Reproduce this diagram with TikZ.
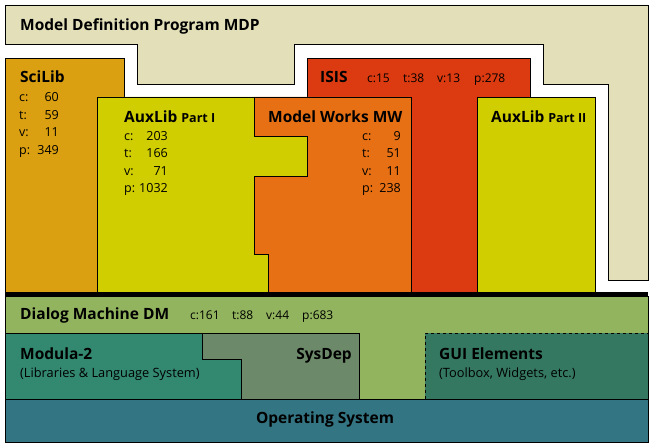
\documentclass[tikz,border=0pt]{standalone}
\usepackage{fontspec}
\setmainfont{Open Sans}
\definecolor{mdpbeige}{HTML}{E2DFB9}
\definecolor{scigold}{HTML}{DBA012}
\definecolor{auxyellow}{HTML}{D0CE00}
\definecolor{mworange}{HTML}{E87014}
\definecolor{isisred}{HTML}{DC3A10}
\definecolor{dmgreen}{HTML}{92B45E}
\definecolor{modteal}{HTML}{338870}
\definecolor{sysgray}{HTML}{6C8A6A}
\definecolor{guiteal}{HTML}{357862}
\definecolor{osblue}{HTML}{347583}
\begin{document}
\begin{tikzpicture}[x=1pt,y=-1pt]
        % Define styles
        \tikzset{
            layer/.style={draw=black, line width=0.8pt},
            title/.style={font=\fontsize{15.5}{17}\selectfont\bfseries, anchor=base west, inner sep=0pt},
            stat/.style={font=\fontsize{12.5}{14}\selectfont, inner sep=0pt},
            count/.style={font=\fontsize{12}{14}\selectfont, anchor=base west, inner sep=0pt},
            note/.style={font=\fontsize{12.8}{14}\selectfont, anchor=base west, inner sep=0pt}
        }
        \newcommand{\partfont}{\fontsize{12.5}{14}\selectfont}
        \useasboundingbox (0,0) rectangle (654,444);
        % Model Definition Program (background frame)
        \filldraw[layer, fill=mdpbeige] (5,5) -- (648,5) -- (648,280) -- (608,280) -- (608,84)
            -- (543,84) -- (543,44) -- (294,44) -- (294,84) -- (137,84) -- (137,44) -- (5,44) -- cycle;
        % Libraries on top of DM
        \filldraw[layer, fill=scigold] (5,58) rectangle (124,292);
        \filldraw[layer, fill=isisred] (307,58) rectangle (530,292);
        \filldraw[layer, fill=mworange] (254,97) -- (411,97) -- (411,292) -- (268,292) -- (268,254)
            -- (254,254) -- (254,176) -- (307,176) -- (307,136) -- (254,136) -- cycle;
        \filldraw[layer, fill=auxyellow] (97,97) -- (254,97) -- (254,136) -- (307,136) -- (307,176)
            -- (254,176) -- (254,254) -- (268,254) -- (268,292) -- (97,292) -- cycle;
        \filldraw[layer, fill=auxyellow] (477,97) rectangle (595,292);
        % Dialog Machine and what lies below
        \fill[dmgreen] (5,296) rectangle (648,399);
        \draw[layer] (5,296) rectangle (648,399);
        \filldraw[layer, fill=sysgray] (202,333) rectangle (359,399);
        \filldraw[layer, fill=modteal] (5,333) -- (202,333) -- (202,359) -- (241,359) -- (241,399)
            -- (5,399) -- cycle;
        \fill[guiteal] (425,333) rectangle (648,399);
        \draw[layer, dashed] (425,399) -- (425,333) -- (648,333);
        \filldraw[layer, fill=osblue] (5,399) rectangle (648,442);
        % Thick separator
        \draw[line width=4pt] (5,294) -- (648,294);
        % Titles
        \node[title] (mdp) at (20,30.5) {Model Definition Program MDP};
        \node[title] (scilib) at (20,83) {SciLib};
        \node[title] (auxone) at (124,123) {AuxLib {\partfont Part I}};
        \node[title] (mw) at (268,123) {Model Works MW};
        \node[title] (isis) at (320,83) {ISIS};
        \node[title] (auxtwo) at (491,123) {AuxLib {\partfont Part II}};
        \node[title] (dm) at (20,319) {Dialog Machine DM};
        \node[title] (modula) at (20,359) {Modula-2};
        \node[title, anchor=base east] (sysdep) at (352,359) {SysDep};
        \node[title] (gui) at (439,359) {GUI Elements};
        \node[title, anchor=base] (os) at (325,423) {Operating System};
        \node[note] (modnote) at (20,377) {(Libraries \& Language System)};
        \node[note] (guinote) at (439,377) {(Toolbox, Widgets, etc.)};
        % Counts in columns
        \foreach \k/\val [count=\i] in {c/60,t/59,v/11,p/349} {
            \node[stat, anchor=base west] (scik\i) at (19,{101.5+17.6*(\i-1)}) {\k:};
            \node[stat, anchor=base east] (sciv\i) at (59,{101.5+17.6*(\i-1)}) {\val};
        }
        \foreach \k/\val [count=\i] in {c/203,t/166,v/71,p/1032} {
            \node[stat, anchor=base west] (auxk\i) at (124,{140+17.6*(\i-1)}) {\k:};
            \node[stat, anchor=base east] (auxv\i) at (168,{140+17.6*(\i-1)}) {\val};
        }
        \foreach \k/\val [count=\i] in {c/9,t/51,v/11,p/238} {
            \node[stat, anchor=base west] (mwk\i) at (362,{140+17.6*(\i-1)}) {\k:};
            \node[stat, anchor=base east] (mwv\i) at (401,{140+17.6*(\i-1)}) {\val};
        }
        % Counts in a row
        \foreach \txt/\x [count=\i] in {c:15/367, t:38/403, v:13/437, p:278/474}
            \node[count] (isisc\i) at (\x,83) {\txt};
        \foreach \txt/\x [count=\i] in {c:161/190, t:88/232, v:44/266, p:683/302}
            \node[count] (dmc\i) at (\x,319) {\txt};
    \end{tikzpicture}
\end{document}
